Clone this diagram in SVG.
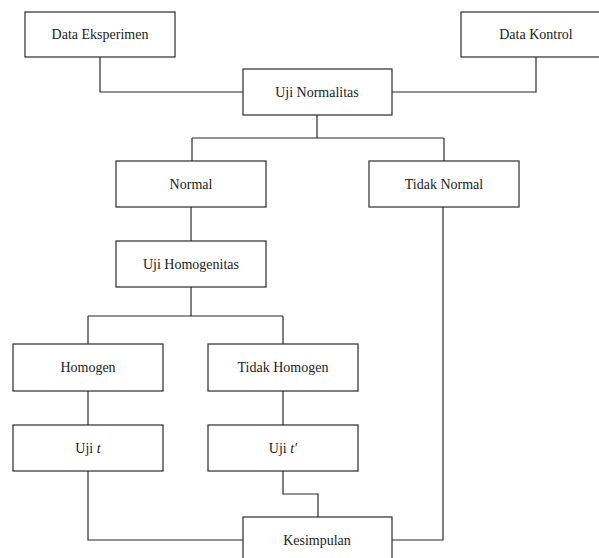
<svg xmlns="http://www.w3.org/2000/svg" width="599" height="558" viewBox="0 0 599 558">
<style>
.box{fill:#fff;stroke:#2b2b2b;stroke-width:1.2}
.lbl{font-family:"Liberation Serif","Times New Roman",serif;font-size:14px;fill:#222;text-anchor:middle}
.conn{fill:none;stroke:#2b2b2b;stroke-width:1.2}
</style>
<rect width="599" height="558" fill="#fff"/>
<g id="connectors" class="conn">
<path d="M100,57 V92 H243"/>
<path d="M536,57 V92 H392"/>
<path d="M317,115 V138 M192,138 H444 M192,138 V161 M444,138 V161"/>
<path d="M191,207 V241"/>
<path d="M191,287 V316 M88,316 H283 M88,316 V344 M283,316 V344"/>
<path d="M88,391 V425"/>
<path d="M283,391 V425"/>
<path d="M88,471 V540 H243"/>
<path d="M283,471 V494 H318 V517"/>
<path d="M392,540 H443 V207"/>
</g>
<g id="data-eksperimen"><rect class="box" x="25" y="12" width="150" height="45"/><text class="lbl" x="100" y="39">Data Eksperimen</text></g>
<g id="data-kontrol"><rect class="box" x="461" y="12" width="150" height="45"/><text class="lbl" x="536" y="39">Data Kontrol</text></g>
<g id="uji-normalitas"><rect class="box" x="243" y="69" width="149" height="46"/><text class="lbl" x="317" y="97">Uji Normalitas</text></g>
<g id="normal"><rect class="box" x="116" y="161" width="150" height="46"/><text class="lbl" x="191" y="189">Normal</text></g>
<g id="tidak-normal"><rect class="box" x="369" y="161" width="150" height="46"/><text class="lbl" x="444" y="189">Tidak Normal</text></g>
<g id="uji-homogenitas"><rect class="box" x="116" y="241" width="150" height="46"/><text class="lbl" x="191" y="269">Uji Homogenitas</text></g>
<g id="homogen"><rect class="box" x="13" y="344" width="150" height="47"/><text class="lbl" x="88" y="372">Homogen</text></g>
<g id="tidak-homogen"><rect class="box" x="208" y="344" width="150" height="47"/><text class="lbl" x="283" y="372">Tidak Homogen</text></g>
<g id="uji-t"><rect class="box" x="13" y="425" width="150" height="46"/><text class="lbl" x="88" y="453">Uji <tspan font-style="italic">t</tspan></text></g>
<g id="uji-t-prime"><rect class="box" x="208" y="425" width="150" height="46"/><text class="lbl" x="283" y="453">Uji <tspan font-style="italic">t′</tspan></text></g>
<g id="kesimpulan"><rect class="box" x="243" y="517" width="149" height="50"/><text class="lbl" x="317" y="545">Kesimpulan</text></g>
</svg>
